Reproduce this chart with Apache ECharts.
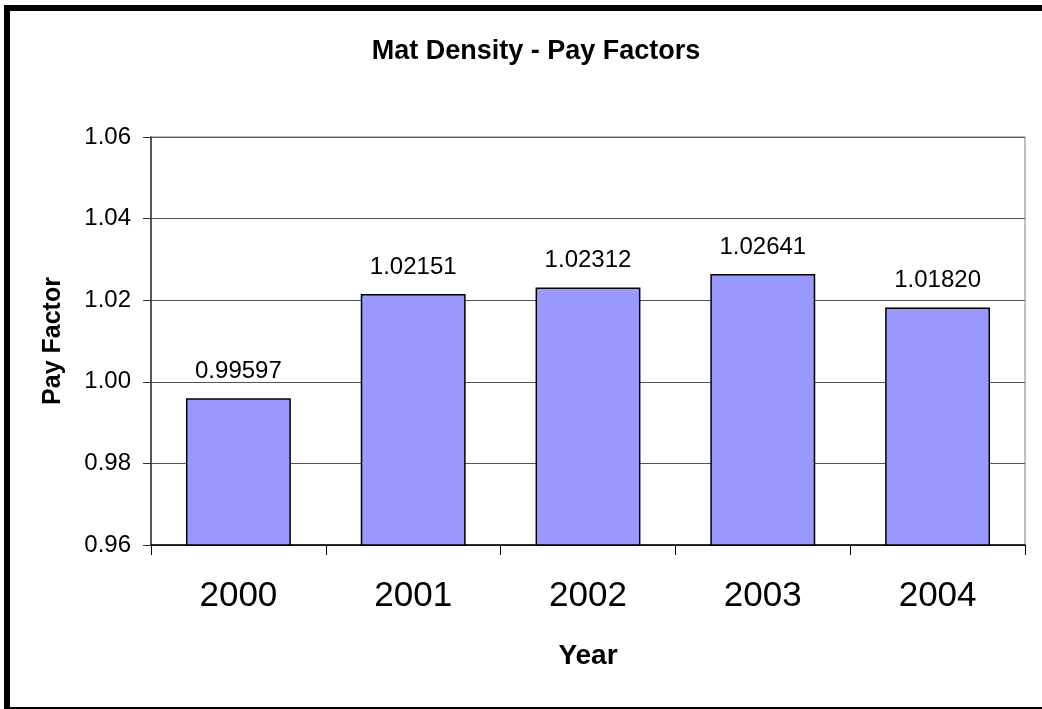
<!DOCTYPE html>
<html>
<head>
<meta charset="utf-8">
<script src="https://cdn.jsdelivr.net/npm/echarts@6/dist/echarts.min.js"></script>
<style>
  html, body { margin: 0; padding: 0; background: #fff; }
  #chart { width: 1042px; height: 709px; }
</style>
</head>
<body>
<div id="chart"></div>
<script>
// data
const years = ['2000', '2001', '2002', '2003', '2004'];
const payFactors = [0.99597, 1.02151, 1.02312, 1.02641, 1.01820];
const yTicks = [0.96, 0.98, 1.00, 1.02, 1.04, 1.06];

const font = '"Liberation Sans", Arial, sans-serif';

const chart = echarts.init(document.getElementById('chart'));

const option = {
    backgroundColor: '#fff',
    animation: false,
    title: {
        text: 'Mat Density - Pay Factors',
        left: 531,
        top: 33,
        textAlign: 'center',
        textStyle: { fontFamily: font, fontSize: 27, fontWeight: 'bold', color: '#000' }
    },
    grid: {
        left: 151,
        right: 17,
        top: 137,
        bottom: 164,
        show: true,
        borderColor: '#808080',
        borderWidth: 1,
        backgroundColor: 'transparent'
    },
    xAxis: {
        type: 'category',
        data: years,
        name: 'Year',
        nameLocation: 'middle',
        nameGap: 97,
        nameTextStyle: { fontFamily: font, fontSize: 28, fontWeight: 'bold', color: '#000' },
        axisLine: { lineStyle: { color: '#000', width: 1.5 } },
        axisTick: { show: true, length: 10, alignWithLabel: false, lineStyle: { color: '#000' } },
        axisLabel: { fontFamily: font, fontSize: 35, color: '#000', margin: 34 },
        splitLine: { show: false }
    },
    yAxis: {
        type: 'value',
        min: yTicks[0],
        max: yTicks[yTicks.length - 1],
        interval: 0.02,
        name: 'Pay Factor',
        nameLocation: 'middle',
        nameGap: 85,
        nameTextStyle: { fontFamily: font, fontSize: 25, fontWeight: 'bold', color: '#000' },
        axisLine: { show: true, lineStyle: { color: '#333', width: 1.5 } },
        axisTick: { show: true, inside: false, length: 8, lineStyle: { color: '#333' } },
        axisLabel: {
            fontFamily: font, fontSize: 24, color: '#000', margin: 20,
            formatter: v => v.toFixed(2)
        },
        splitLine: { show: true, lineStyle: { color: '#555', width: 1 } }
    },
    series: [{
        type: 'bar',
        data: payFactors,
        barWidth: '60%',
        itemStyle: { color: '#9999FF', borderColor: '#000', borderWidth: 1.5 },
        label: {
            show: true,
            position: 'top',
            distance: 15,
            fontFamily: font,
            fontSize: 24,
            color: '#000',
            formatter: p => p.value.toFixed(5)
        }
    }],
    graphic: [
        { type: 'rect', shape: { x: 4, y: 5, width: 1038, height: 6 }, style: { fill: '#000' } },
        { type: 'rect', shape: { x: 4, y: 5, width: 6, height: 704 }, style: { fill: '#000' } },
        { type: 'rect', shape: { x: 4, y: 707, width: 1038, height: 2 }, style: { fill: '#000' } }
    ]
};

chart.setOption(option);
window.addEventListener('resize', () => chart.resize());
</script>
</body>
</html>
